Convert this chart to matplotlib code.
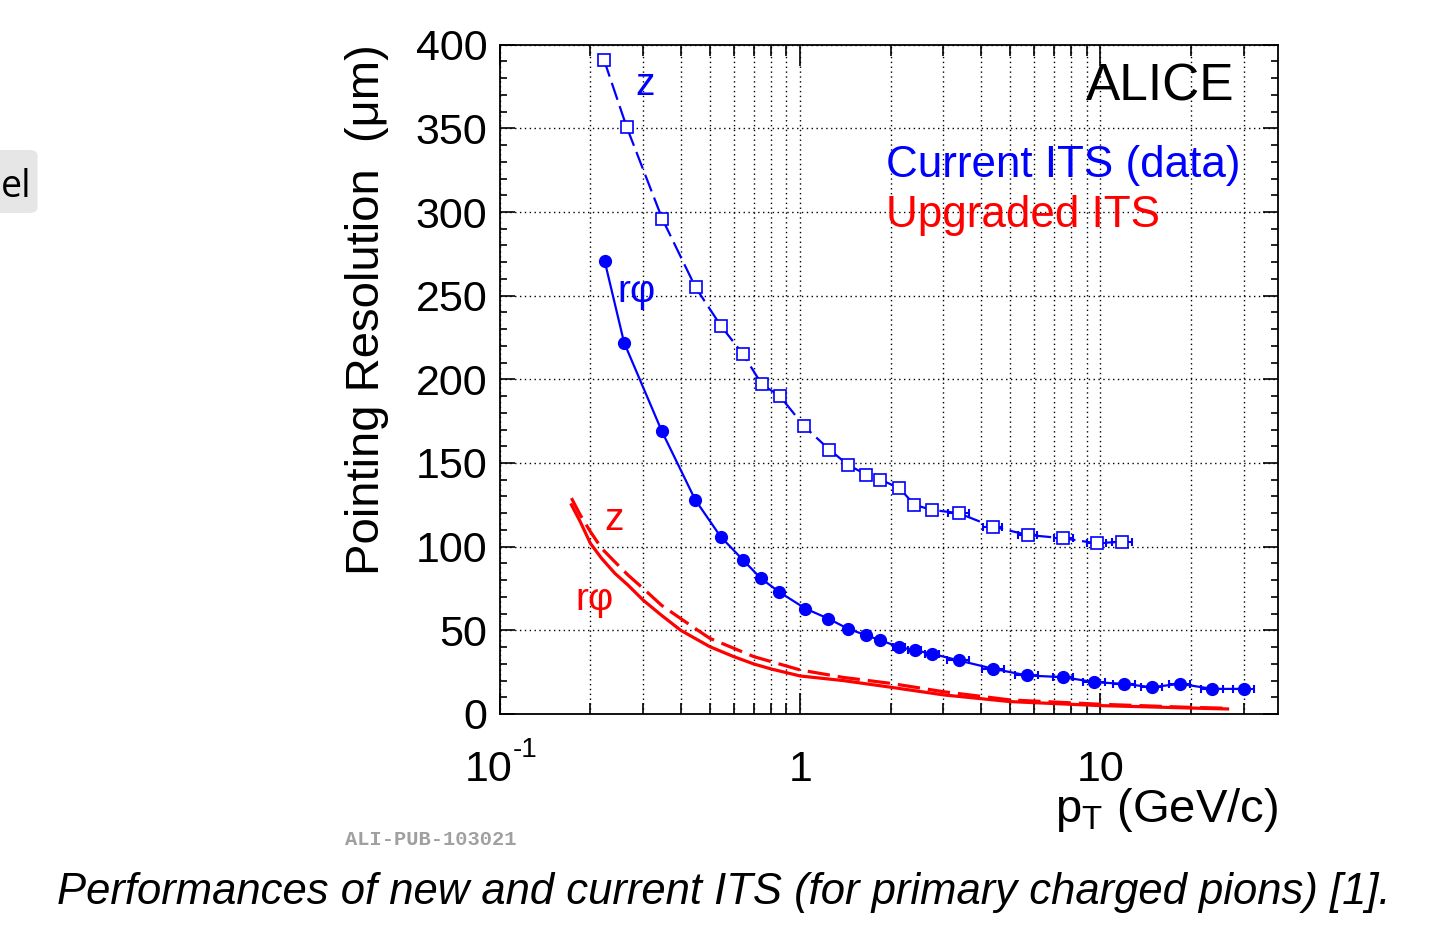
import numpy as np
import matplotlib.pyplot as plt
import matplotlib.transforms as mtransforms
from matplotlib.ticker import MultipleLocator, LogLocator, NullFormatter
from matplotlib.patches import FancyBboxPatch

plt.rcParams['font.family'] = ['Liberation Sans', 'DejaVu Sans']
plt.rcParams['mathtext.fontset'] = 'custom'
plt.rcParams['mathtext.rm'] = 'Liberation Sans'
plt.rcParams['mathtext.it'] = 'Liberation Sans:italic'

# Current ITS (data), z resolution - open squares
pt_z_cur = [0.222, 0.264, 0.347, 0.448, 0.544, 0.645, 0.745, 0.855, 1.03, 1.25, 1.44, 1.66,
            1.85, 2.14, 2.40, 2.74, 3.37, 4.37, 5.72, 7.53, 9.70, 11.8]
res_z_cur = [391, 351, 296, 255, 232, 215, 197, 190, 172, 158, 149, 143,
             140, 135, 125, 122, 120, 112, 107, 105, 102, 103]
xerr_z_cur = [0, 0, 0, 0, 0, 0, 0, 0, 0, 0, 0, 0,
              0, 0, 0, 0, 0.27, 0.32, 0.42, 0.55, 0.70, 0.90]

# Current ITS (data), r-phi resolution - filled circles
pt_rphi_cur = [0.223, 0.259, 0.346, 0.447, 0.543, 0.645, 0.740, 0.850, 1.04, 1.24, 1.44, 1.66,
               1.85, 2.14, 2.41, 2.75, 3.37, 4.40, 5.70, 7.53, 9.55, 12.0, 14.8, 18.4, 23.6, 30.1]
res_rphi_cur = [271, 222, 169, 128, 106, 92, 81, 73, 63, 57, 51, 47,
                44, 40, 38, 36, 32, 27, 23, 22, 19, 18, 16, 18, 15, 15]
xerr_rphi_cur = [0, 0, 0, 0, 0, 0, 0, 0, 0, 0, 0, 0,
                 0, 0.1, 0.12, 0.15, 0.28, 0.38, 0.5, 0.6, 0.8, 1.0, 1.2, 1.5, 2.0, 2.4]

# Upgraded ITS (simulation)
pt_rphi_up = [0.173, 0.185, 0.20, 0.218, 0.2415, 0.267, 0.30, 0.345, 0.40, 0.50, 0.60, 0.70,
              0.80, 1.0, 1.385, 2.0, 3.0, 5.0, 10.0, 19.5, 26.5]
res_rphi_up = [125, 115, 102, 93, 84, 77, 68, 59, 50, 40.2, 34.3, 29.9,
               26.9, 22.7, 20.0, 16.0, 11.4, 7.4, 5.0, 3.6, 3.0]
pt_z_up = [0.173, 0.185, 0.20, 0.218, 0.238, 0.267, 0.30, 0.345, 0.40, 0.456, 0.50, 0.60,
           0.70, 0.80, 1.0, 1.385, 2.0, 3.0, 5.0, 10.0, 19.5, 26.5]
res_z_up = [129, 119, 109, 99, 92, 83, 75, 65, 57, 50, 45.2, 39.3,
            34.3, 31.3, 26.3, 21.9, 18.3, 13.3, 8.4, 5.8, 4.0, 3.4]

xtick_vals = [1, 10]
xtick_labels = ['1', '10']

blue = '#0000ff'
red = '#ff0000'

fig = plt.figure(figsize=(14.45, 9.27), dpi=100)
ax = fig.add_axes([0.346, 0.2298, 0.5384, 0.722])

ax.set_xscale('log')
ax.set_xlim(0.1, 39)
ax.set_ylim(0, 400)

# ticks, ROOT style: inward on all four sides
ax.xaxis.set_major_locator(LogLocator(base=10))
ax.xaxis.set_minor_locator(LogLocator(base=10, subs=np.arange(2, 10)))
ax.xaxis.set_major_formatter(NullFormatter())
ax.xaxis.set_minor_formatter(NullFormatter())
ax.yaxis.set_major_locator(MultipleLocator(50))
ax.yaxis.set_minor_locator(MultipleLocator(10))
ax.tick_params(which='both', direction='in', top=True, right=True, width=1.2)
ax.tick_params(axis='x', which='major', length=15)
ax.tick_params(axis='x', which='minor', length=8)
ax.tick_params(axis='y', which='major', length=11, labelsize=31, pad=9)
ax.tick_params(axis='y', which='minor', length=5)
for s in ax.spines.values():
    s.set_linewidth(1.3)

ax.grid(True, axis='x', which='both', color='black', linestyle=(0, (1, 2.5)), linewidth=1.0)
ax.grid(True, axis='y', which='major', color='black', linestyle=(0, (1, 2.5)), linewidth=1.0)
ax.set_axisbelow(True)

# x tick labels drawn on a common baseline
trans = mtransforms.blended_transform_factory(ax.transData, ax.transAxes)
for xv, lab in zip(xtick_vals, xtick_labels):
    ax.text(xv, -0.100, lab, transform=trans, ha='center', va='baseline', fontsize=31)
ax.annotate('10', xy=(0.1, -0.100), xycoords=trans, xytext=(-8, 0),
            textcoords='offset points', ha='center', va='baseline', fontsize=31)
ax.annotate('-1', xy=(0.1, -0.100), xycoords=trans, xytext=(9, 17),
            textcoords='offset points', ha='left', va='baseline', fontsize=20)

# upgraded ITS curves
ax.plot(pt_rphi_up, res_rphi_up, color=red, lw=2.3)
ax.plot(pt_z_up, res_z_up, color=red, lw=2.3, dashes=(7, 2.5))

# current ITS data
ax.errorbar(pt_z_cur, res_z_cur, xerr=xerr_z_cur, fmt='none', ecolor=blue,
            elinewidth=1.5, capsize=3, capthick=1.5)
ax.plot(pt_z_cur, res_z_cur, color=blue, lw=1.6, dashes=(8, 3), marker='s',
        ms=9, mfc='white', mec=blue, mew=1.2)
ax.errorbar(pt_rphi_cur, res_rphi_cur, xerr=xerr_rphi_cur, fmt='none', ecolor=blue,
            elinewidth=1.5, capsize=3, capthick=1.5)
ax.plot(pt_rphi_cur, res_rphi_cur, color=blue, lw=1.6, marker='o', ms=8.5,
        mfc=blue, mec=blue)

# curve labels
ax.text(0.304, 370, 'z', color=blue, fontsize=28, ha='center', va='baseline')
ax.text(0.284, 246, 'rφ', color=blue, fontsize=28, ha='center', va='baseline')
ax.text(0.2395, 110, 'z', color=red, fontsize=28, ha='center', va='baseline')
ax.text(0.207, 62, 'rφ', color=red, fontsize=28, ha='center', va='baseline')

ax.text(0.9447, 0.917, 'ALICE', transform=ax.transAxes, fontsize=37,
        ha='right', va='baseline')
ax.text(0.496, 0.803, 'Current ITS (data)', transform=ax.transAxes, fontsize=31.7,
        color=blue, ha='left', va='baseline')
ax.text(0.496, 0.728, 'Upgraded ITS', transform=ax.transAxes, fontsize=31.7,
        color=red, ha='left', va='baseline')

# axis titles
fig.text(0.254, 0.6656, 'Pointing Resolution  (μm)', rotation=90, fontsize=34,
         ha='center', va='center')
fig.text(0.8844, 0.1133, r'$\mathregular{p_{T}}$ (GeV/c)', fontsize=34,
         ha='right', va='baseline')

fig.text(0.2388, 0.0939, 'ALI-PUB-103021', family=['Liberation Mono', 'DejaVu Sans Mono'],
         weight='bold', fontsize=14.7, color='#a0a0a0', ha='left', va='center')

# slide remnants: caption and cut-off tab at the left
cap = fig.text(0.501, 0.0367,
               'Performances of new and current ITS (for primary charged pions) [1].',
               family=['Liberation Sans Narrow', 'Liberation Sans'], style='italic',
               fontsize=30, ha='center', va='center')
fig.canvas.draw()
w = cap.get_window_extent().width
cap.set_fontsize(30 * 1332 / w)

tab = FancyBboxPatch((-0.02, 1 - 213 / 927), 0.046, 63 / 927,
                     boxstyle='round,pad=0,rounding_size=0.006',
                     transform=fig.transFigure, facecolor='#e6e6e6', edgecolor='none')
fig.patches.append(tab)
fig.text(0.0005, 1 - 197 / 927, 'el', fontsize=27, family=['Open Sans', 'DejaVu Sans'],
         ha='left', va='baseline')

fig.savefig('out.png', dpi=100)
